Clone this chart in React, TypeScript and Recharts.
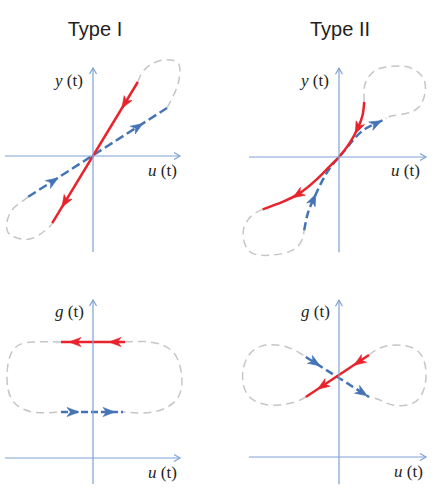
import React from "react";
import { LineChart, Line, XAxis, YAxis } from "recharts";

// same number of pixels per unit on both axes, so arrow angles in data = angles on screen
const PX = 40;

type Pt = { x: number; y: number };
type Arrow = Pt & { dx: number; dy: number };

// ---------- Type I : y(t) vs u(t)
const t1Red: Pt[] = [{ x: 1.12, y: 1.85 }, { x: -1.02, y: -1.68 }];
const t1Blue: Pt[] = [{ x: -1.62, y: -1.02 }, { x: 1.85, y: 1.2 }];
const t1LoopTop: Pt[] = [
  { x: 1.12, y: 1.85 }, { x: 1.22, y: 2.07 }, { x: 1.42, y: 2.27 }, { x: 1.75, y: 2.4 },
  { x: 2.1, y: 2.35 }, { x: 2.17, y: 2.1 }, { x: 2.1, y: 1.72 }, { x: 1.85, y: 1.2 },
];
const t1LoopBottom: Pt[] = [
  { x: -1.62, y: -1.02 }, { x: -1.82, y: -1.17 }, { x: -2.07, y: -1.42 }, { x: -2.15, y: -1.85 },
  { x: -1.9, y: -2.05 }, { x: -1.5, y: -2.05 }, { x: -1.1, y: -1.78 }, { x: -1.02, y: -1.68 },
];
const t1RedArrows: Arrow[] = [
  { x: 0.8, y: 1.32, dx: -1, dy: -1.65 },
  { x: -0.7, y: -1.15, dx: -1, dy: -1.65 },
];
const t1BlueArrows: Arrow[] = [
  { x: -1.0, y: -0.63, dx: 1, dy: 0.65 },
  { x: 1.12, y: 0.73, dx: 1, dy: 0.65 },
];

// ---------- Type II : y(t) vs u(t)
const t2Red: Pt[] = [
  { x: 0.63, y: 1.38 }, { x: 0.59, y: 1.05 }, { x: 0.47, y: 0.72 }, { x: 0.26, y: 0.34 },
  { x: 0, y: 0 }, { x: -0.24, y: -0.24 }, { x: -0.58, y: -0.58 }, { x: -0.99, y: -0.91 },
  { x: -1.41, y: -1.12 }, { x: -1.91, y: -1.31 },
];
const t2Blue: Pt[] = [
  { x: -0.87, y: -1.83 }, { x: -0.78, y: -1.41 }, { x: -0.64, y: -1.06 }, { x: -0.41, y: -0.58 },
  { x: -0.2, y: -0.24 }, { x: 0, y: 0 }, { x: 0.22, y: 0.26 }, { x: 0.43, y: 0.51 },
  { x: 0.68, y: 0.72 }, { x: 0.93, y: 0.84 }, { x: 1.18, y: 0.97 },
];
const t2LoopTop: Pt[] = [
  { x: 0.63, y: 1.38 }, { x: 0.63, y: 1.72 }, { x: 0.72, y: 1.97 }, { x: 0.93, y: 2.18 },
  { x: 1.26, y: 2.26 }, { x: 1.68, y: 2.26 }, { x: 2.05, y: 2.05 }, { x: 2.16, y: 1.68 },
  { x: 2.01, y: 1.26 }, { x: 1.68, y: 1.09 }, { x: 1.34, y: 1.03 }, { x: 1.18, y: 0.97 },
];
const t2LoopBottom: Pt[] = [
  { x: -1.91, y: -1.31 }, { x: -2.16, y: -1.45 }, { x: -2.37, y: -1.74 }, { x: -2.37, y: -2.12 },
  { x: -2.16, y: -2.41 }, { x: -1.66, y: -2.45 }, { x: -1.16, y: -2.33 }, { x: -0.93, y: -2.08 },
  { x: -0.87, y: -1.83 },
];
const t2RedArrows: Arrow[] = [
  { x: 0.47, y: 0.72, dx: -0.33, dy: -0.71 },
  { x: -1.03, y: -0.94, dx: -0.83, dy: -0.54 },
];
const t2BlueArrows: Arrow[] = [
  { x: -0.64, y: -1.06, dx: 0.38, dy: 0.83 },
  { x: 0.93, y: 0.84, dx: 0.5, dy: 0.25 },
];

// ---------- Type I : g(t) vs u(t)
const g1Red: Pt[] = [{ x: 0.8, y: 2.9 }, { x: -0.8, y: 2.9 }];
const g1Blue: Pt[] = [{ x: -0.8, y: 1.15 }, { x: 0.75, y: 1.15 }];
const g1LoopLeft: Pt[] = [
  { x: -0.8, y: 2.9 }, { x: -1.5, y: 2.9 }, { x: -2.0, y: 2.7 }, { x: -2.15, y: 2.02 },
  { x: -2.0, y: 1.42 }, { x: -1.5, y: 1.15 }, { x: -0.8, y: 1.15 },
];
const g1LoopRight: Pt[] = [
  { x: 0.8, y: 2.9 }, { x: 1.42, y: 2.9 }, { x: 2.0, y: 2.65 }, { x: 2.22, y: 2.02 },
  { x: 2.08, y: 1.45 }, { x: 1.5, y: 1.15 }, { x: 0.75, y: 1.15 },
];
const g1RedArrows: Arrow[] = [
  { x: -0.45, y: 2.9, dx: -1, dy: 0 },
  { x: 0.55, y: 2.9, dx: -1, dy: 0 },
];
const g1BlueArrows: Arrow[] = [
  { x: -0.5, y: 1.15, dx: 1, dy: 0 },
  { x: 0.4, y: 1.15, dx: 1, dy: 0 },
];

// ---------- Type II : g(t) vs u(t)
const g2Red: Pt[] = [{ x: -0.83, y: 1.5 }, { x: 0.75, y: 2.55 }];
const g2Blue: Pt[] = [{ x: -0.83, y: 2.5 }, { x: 0.75, y: 1.5 }];
const g2LoopLeft: Pt[] = [
  { x: -0.83, y: 1.5 }, { x: -1.08, y: 1.38 }, { x: -1.49, y: 1.3 }, { x: -1.91, y: 1.33 },
  { x: -2.28, y: 1.55 }, { x: -2.41, y: 2.01 }, { x: -2.28, y: 2.51 }, { x: -1.91, y: 2.78 },
  { x: -1.41, y: 2.78 }, { x: -1.03, y: 2.63 }, { x: -0.83, y: 2.5 },
];
const g2LoopRight: Pt[] = [
  { x: 0.75, y: 2.55 }, { x: 1.01, y: 2.72 }, { x: 1.43, y: 2.8 }, { x: 1.93, y: 2.68 },
  { x: 2.16, y: 2.26 }, { x: 2.13, y: 1.72 }, { x: 1.84, y: 1.34 }, { x: 1.34, y: 1.3 },
  { x: 1.01, y: 1.43 }, { x: 0.75, y: 1.5 },
];
const g2RedArrows: Arrow[] = [
  { x: 0.5, y: 2.38, dx: -1, dy: -0.667 },
  { x: -0.41, y: 1.78, dx: -1, dy: -0.667 },
];
const g2BlueArrows: Arrow[] = [
  { x: -0.6, y: 2.36, dx: 1, dy: -0.635 },
  { x: 0.58, y: 1.61, dx: 1, dy: -0.635 },
];

// axes: [start, tip]
const axisTopL = { h: [{ x: -2.2, y: 0 }, { x: 2.175, y: 0 }], v: [{ x: 0, y: -2.4 }, { x: 0, y: 2.2 }] };
const axisTopR = { h: [{ x: -2.25, y: 0 }, { x: 2.175, y: 0 }], v: [{ x: 0, y: -2.38 }, { x: 0, y: 2.22 }] };
const axisBotL = { h: [{ x: -2.2, y: 0 }, { x: 2.175, y: 0 }], v: [{ x: 0, y: -0.65 }, { x: 0, y: 3.95 }] };
const axisBotR = { h: [{ x: -2.25, y: 0 }, { x: 2.175, y: 0 }], v: [{ x: 0, y: -0.68 }, { x: 0, y: 3.92 }] };

const RED = "#e8232b";
const BLUE = "#4574b5";
const GRAY = "#c6c6c6";
const AXIS = "#7fa2d6";

const arrowDot = (color: string) => (props: any) => {
  const { cx, cy, payload, index } = props;
  if (cx == null || cy == null) return <g key={`a${index}`} />;
  const ang = (Math.atan2(-payload.dy, payload.dx) * 180) / Math.PI;
  return (
    <path
      key={`a${index}`}
      d="M6,0 L-6,-4.6 L-2.6,0 L-6,4.6 Z"
      fill={color}
      stroke={color}
      strokeWidth={0.6}
      strokeLinejoin="round"
      transform={`translate(${cx},${cy}) rotate(${ang})`}
    />
  );
};

const tipDot = (angle: number) => (props: any) => {
  const { cx, cy, index } = props;
  if (index !== 1 || cx == null) return <g key={`t${index}`} />;
  return (
    <path
      key={`t${index}`}
      d="M-6,-3.5 L0,0 L-6,3.5"
      fill="none"
      stroke={AXIS}
      strokeWidth={1.2}
      transform={`translate(${cx},${cy}) rotate(${angle})`}
    />
  );
};

function curve(key: string, data: Pt[], color: string, width: number, dash?: string, type: any = "linear") {
  return (
    <Line
      key={key}
      data={data}
      dataKey="y"
      type={type}
      stroke={color}
      strokeWidth={width}
      strokeDasharray={dash}
      dot={false}
      activeDot={false}
      isAnimationActive={false}
    />
  );
}

function arrows(key: string, data: Arrow[], color: string) {
  return (
    <Line
      key={key}
      data={data}
      dataKey="y"
      stroke="none"
      dot={arrowDot(color)}
      activeDot={false}
      isAnimationActive={false}
    />
  );
}

function axes(key: string, ax: { h: Pt[]; v: Pt[] }) {
  return [
    <Line key={key + "h"} data={ax.h} dataKey="y" stroke={AXIS} strokeWidth={1.2} dot={tipDot(0)} activeDot={false} isAnimationActive={false} />,
    <Line key={key + "v"} data={ax.v} dataKey="y" stroke={AXIS} strokeWidth={1.2} dot={tipDot(-90)} activeDot={false} isAnimationActive={false} />,
  ];
}

function Panel({ left, top, width, height, ox, oy, children }: any) {
  const xDom = [(left - ox) / PX, (left + width - ox) / PX];
  const yDom = [(oy - top - height) / PX, (oy - top) / PX];
  return (
    <div style={{ position: "absolute", left, top }}>
      <LineChart width={width} height={height} margin={{ top: 0, right: 0, bottom: 0, left: 0 }}>
        <XAxis type="number" dataKey="x" domain={xDom} hide allowDataOverflow />
        <YAxis type="number" domain={yDom} hide allowDataOverflow />
        {children}
      </LineChart>
    </div>
  );
}

const serif = '"Liberation Serif", "DejaVu Serif", serif';
const sans = '"Liberation Sans", Arial, sans-serif';

function AxisLabel({ x, y, v }: { x: number; y: number; v: string }) {
  return (
    <text x={x} y={y} style={{ fontFamily: serif, fontSize: 17 }} fill="#231f20">
      <tspan style={{ fontStyle: "italic" }}>{v}</tspan>
      <tspan> (t)</tspan>
    </text>
  );
}

export default function App() {
  return (
    <div style={{ position: "absolute", left: 0, top: 0, width: 436, height: 494, background: "#fff" }}>
      <Panel left={0} top={50} width={218} height={210} ox={93} oy={156}>
        {[
          curve("l1", t1LoopTop, GRAY, 1.5, "8 5", "natural"),
          curve("l2", t1LoopBottom, GRAY, 1.5, "8 5", "natural"),
          curve("b", t1Blue, BLUE, 2.5, "9 4"),
          curve("r", t1Red, RED, 2.5),
          arrows("ba", t1BlueArrows, BLUE),
          arrows("ra", t1RedArrows, RED),
          ...axes("ax", axisTopL),
        ]}
      </Panel>
      <Panel left={218} top={50} width={218} height={210} ox={339} oy={157}>
        {[
          curve("l1", t2LoopTop, GRAY, 1.5, "8 5", "natural"),
          curve("l2", t2LoopBottom, GRAY, 1.5, "8 5", "natural"),
          curve("b", t2Blue, BLUE, 2.5, "8 4", "natural"),
          curve("r", t2Red, RED, 2.5, undefined, "natural"),
          arrows("ba", t2BlueArrows, BLUE),
          arrows("ra", t2RedArrows, RED),
          ...axes("ax", axisTopR),
        ]}
      </Panel>
      <Panel left={0} top={280} width={218} height={214} ox={93} oy={458}>
        {[
          curve("l1", g1LoopLeft, GRAY, 1.5, "8 5", "natural"),
          curve("l2", g1LoopRight, GRAY, 1.5, "8 5", "natural"),
          curve("b", g1Blue, BLUE, 2.5, "7 3"),
          curve("r", g1Red, RED, 2.5),
          arrows("ba", g1BlueArrows, BLUE),
          arrows("ra", g1RedArrows, RED),
          ...axes("ax", axisBotL),
        ]}
      </Panel>
      <Panel left={218} top={280} width={218} height={214} ox={339} oy={457}>
        {[
          curve("l1", g2LoopLeft, GRAY, 1.5, "8 5", "natural"),
          curve("l2", g2LoopRight, GRAY, 1.5, "8 5", "natural"),
          curve("b", g2Blue, BLUE, 2.5, "8 4"),
          curve("r", g2Red, RED, 2.5),
          arrows("ba", g2BlueArrows, BLUE),
          arrows("ra", g2RedArrows, RED),
          ...axes("ax", axisBotR),
        ]}
      </Panel>
      <svg width={436} height={494} style={{ position: "absolute", left: 0, top: 0, pointerEvents: "none" }}>
        <text x={95} y={36} textAnchor="middle" style={{ fontFamily: sans, fontSize: 20 }} fill="#231f20">Type I</text>
        <text x={340} y={36} textAnchor="middle" style={{ fontFamily: sans, fontSize: 20 }} fill="#231f20">Type II</text>
        <AxisLabel x={55} y={86} v="y" />
        <AxisLabel x={148} y={176} v="u" />
        <AxisLabel x={301} y={86} v="y" />
        <AxisLabel x={391} y={176} v="u" />
        <AxisLabel x={55} y={317} v="g" />
        <AxisLabel x={148} y={478} v="u" />
        <AxisLabel x={301} y={317} v="g" />
        <AxisLabel x={394} y={477} v="u" />
      </svg>
    </div>
  );
}
